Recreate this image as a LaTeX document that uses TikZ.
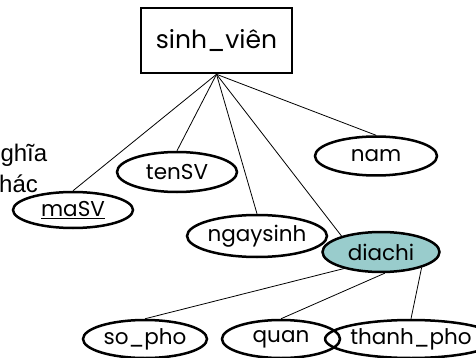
\documentclass[tikz,border=0pt]{standalone}
\usepackage{fontspec}
\setmainfont{Poppins}
\newfontfamily\arialf{Liberation Sans}
\usetikzlibrary{shapes.geometric}
\definecolor{teal1}{RGB}{153,204,204}
\tikzset{
  attr/.style={ellipse, draw, line width=2.5pt, inner sep=0pt, font=\fontsize{21.5}{21.5}\selectfont},
  entbox/.style={rectangle, draw, line width=2.6pt, inner sep=0pt, minimum width=151pt, minimum height=65pt, font=\fontsize{25}{25}\selectfont},
  conn/.style={line width=0.8pt}
}
\begin{document}
\begin{tikzpicture}[x=1pt,y=-1pt]
\useasboundingbox (0,0) rectangle (476,358);
\clip (0,0) rectangle (476,358);
\node[anchor=base west, font=\arialf\fontsize{24}{24}\selectfont, inner sep=0pt] (t1) at (-13,162) {nghĩa};
\node[anchor=base west, font=\arialf\fontsize{24}{24}\selectfont, inner sep=0pt] (t2) at (-13,193) {khác};
\node[entbox] (sv) at (216.5,40.5) {sinh\_viên};
\node[attr, minimum width=120pt, minimum height=36pt] (masv) at (73,210) {\underline{maSV}};
\node[attr, minimum width=120pt, minimum height=40pt] (tensv) at (177,172) {tenSV};
\node[attr, minimum width=120pt, minimum height=42pt] (ngay) at (257,236) {ngaysinh};
\node[attr, minimum width=117pt, minimum height=40pt, fill=teal1] (dc) at (381,252) {diachi};
\node[attr, minimum width=122pt, minimum height=39pt] (nam) at (376,156) {nam};
\node[attr, minimum width=124pt, minimum height=38pt] (sopho) at (145,339) {so\_pho};
\node[attr, minimum width=118pt, minimum height=38pt] (quan) at (281,339) {quan};
\node[attr, minimum width=127pt, minimum height=38pt] (tp) at (411,339) {thanh\_pho};
\draw[conn] (sv.south) -- (masv.north);
\draw[conn] (sv.south) -- (tensv.north);
\draw[conn] (sv.south) -- (ngay.north);
\draw[conn] (sv.south) -- (dc.158);
\draw[conn] (sv.south) -- (nam.north);
\draw[conn] (dc.204) -- (sopho.north);
\draw[conn] (dc.-80) -- (quan.north);
\draw[conn] (dc.-21) -- (tp.north);
\end{tikzpicture}
\end{document}
